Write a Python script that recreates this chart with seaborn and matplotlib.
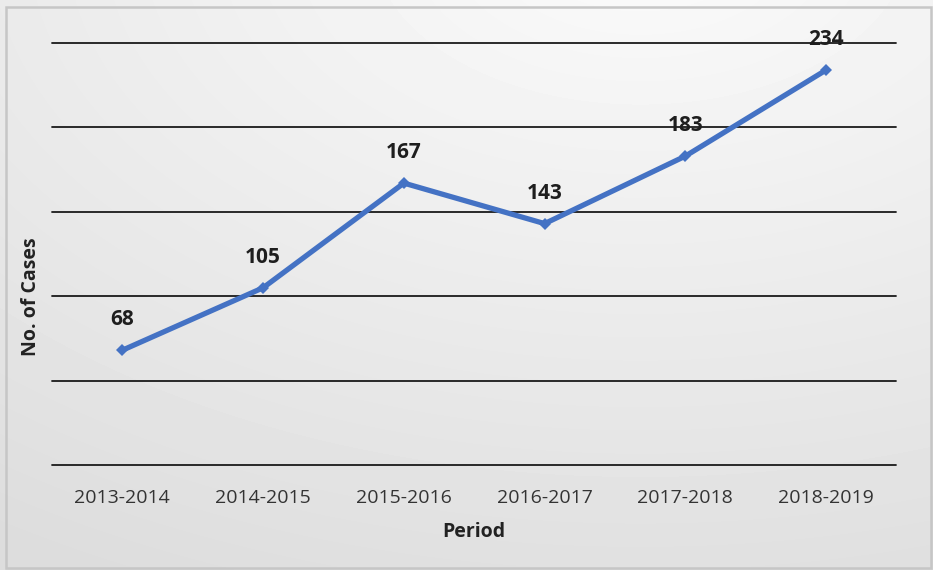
import numpy as np
import pandas as pd
import matplotlib
matplotlib.use('Agg')
import matplotlib.pyplot as plt
from matplotlib.patches import Rectangle
import seaborn as sns

# chart data
periods = ['2013-2014', '2014-2015', '2015-2016', '2016-2017', '2017-2018', '2018-2019']
cases = [68, 105, 167, 143, 183, 234]

df = pd.DataFrame({'Period': periods, 'Cases': cases})

sns.set_style('white')
plt.rcParams['font.family'] = ['Open Sans', 'DejaVu Sans']

fig = plt.figure(figsize=(9.33, 5.7), dpi=100)

# background gradient (light centre-top, grey edges)
bg = fig.add_axes([0, 0, 1, 1], zorder=-2)
yy, xx = np.mgrid[0:570, 0:933]
d = np.sqrt(((xx - 640) / 933.0) ** 2 + ((yy + 60) / 570.0) ** 2)
shade = 0.975 - 0.11 * np.clip((d - 0.1) / 1.15, 0, 1)
bg.imshow(shade, cmap='gray', vmin=0, vmax=1, aspect='auto', extent=[0, 1, 0, 1], origin='upper')
bg.set_axis_off()
fig.patches.append(Rectangle((6 / 933, 2 / 570), 925 / 933, 561 / 570, transform=fig.transFigure,
                             fill=False, edgecolor='#c6c6c6', linewidth=1.8))

ax = fig.add_axes([52 / 933, (570 - 465) / 570, (896.5 - 52) / 933, (465 - 43) / 570])
ax.patch.set_alpha(0)

sns.lineplot(data=df, x='Period', y='Cases', ax=ax, color='#4472C4', linewidth=3.8,
             marker='D', markersize=6, markeredgewidth=0, sort=False)

for i, v in enumerate(cases):
    ax.annotate(str(v), (i, v), xytext=(0, 22), textcoords='offset points',
                ha='center', va='center', fontsize=15, fontweight='bold', color='#1e1e1e')

ax.set_ylim(0, 250)
ax.set_xlim(-0.5, 5.5)
ax.set_yticks([0, 50, 100, 150, 200, 250])
ax.set_yticklabels([])
ax.yaxis.grid(True, color='#1a1a1a', linewidth=1.3)
for gl in ax.get_ygridlines():
    gl.set_clip_on(False)
ax.set_axisbelow(True)
ax.tick_params(axis='both', length=0)
ax.tick_params(axis='x', labelsize=14, colors='#333333', pad=17)
for s in ax.spines.values():
    s.set_visible(False)

ax.set_xlabel('Period', fontsize=14, fontweight='bold', color='#222222', labelpad=11)
ax.set_ylabel('No. of Cases', fontsize=14, fontweight='bold', color='#222222')
ax.yaxis.set_label_coords(-0.013, 0.40)

plt.savefig('out.png', dpi=100)
